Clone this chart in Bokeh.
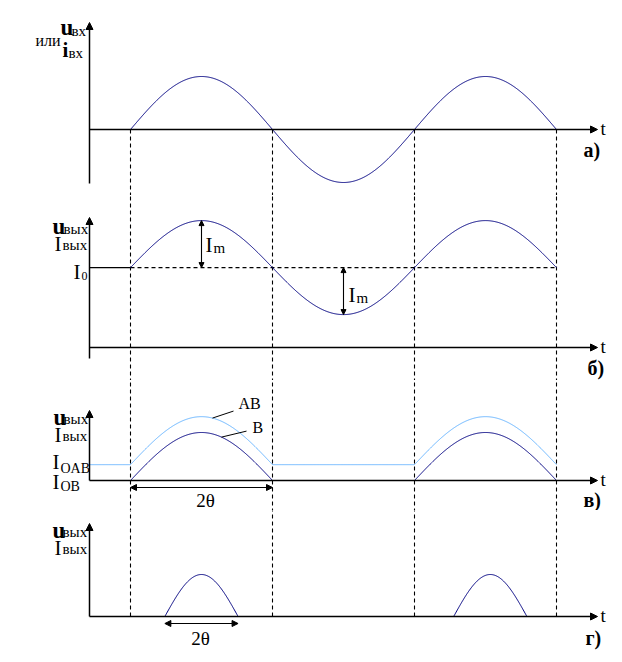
import numpy as np
from bokeh.plotting import figure
from bokeh.layouts import column
from bokeh.models import Range1d, Arrow, NormalHead
from bokeh.core.properties import value
from bokeh.embed import file_html
from bokeh.resources import INLINE

# ---- signal parameters (phase wt in radians) ----
PHASE_END = 3 * np.pi                               # one and a half periods of the input
HALF_PERIOD_MARKS = [0.0, np.pi, 2 * np.pi, 3 * np.pi]

U_IN_AMPL = 1.0          # а) input amplitude

I0_A = 1.7               # б) class A quiescent current
IM_A = 1.0               # б) class A current amplitude

I0_AB = 0.33             # в) class AB quiescent current
IM_B = 1.0               # в) class B / AB amplitude

IM_C = 1.0               # г) class C pulse height
THETA_C = 0.81           # г) cut-off angle theta, radians
PULSE_CENTERS_C = [1.57, 7.96]

panel_tags = ["а)", "б)", "в)", "г)"]

# ---- layout ----
W = 622
PX_PER_RAD = 142 / np.pi
ZERO_PX = 130
YAXIS_PX = 89
XAXIS_END_PX = 597

NAVY = "#000080"
LIGHT = "#66b3ff"
FONT = value("'Liberation Serif', serif")
BASELINE_FIX = 0.28      # alphabetic baseline sits this many em too low


def t_of(px):
    return (px - ZERO_PX) / PX_PER_RAD


T_AXIS = t_of(YAXIS_PX)
T_XEND = t_of(XAXIS_END_PX)


class Panel:
    def __init__(self, height, axis_px, scale):
        self.h, self.axis_px, self.scale = height, axis_px, scale
        self.p = figure(width=W, height=height,
                        x_range=Range1d(t_of(0), t_of(W)),
                        y_range=Range1d(-(height - axis_px) / scale, axis_px / scale),
                        output_backend="svg", toolbar_location=None,
                        x_axis_location=None, y_axis_location=None,
                        min_border=0, outline_line_color=None)
        self.p.grid.grid_line_color = None

    def y(self, px):
        return (self.axis_px - px) / self.scale

    @property
    def bottom(self):
        return self.y(self.h + 2)

    @property
    def top(self):
        return self.y(-2)

    def text(self, x_px, base_px, s, size, bold=False, align="left", color="black"):
        self.p.text(x=[t_of(x_px)], y=[self.y(base_px - BASELINE_FIX * size)], text=[s],
                    text_font=FONT, text_font_size=f"{size}px",
                    text_font_style="bold" if bold else "normal",
                    text_align=align, text_baseline="alphabetic", text_color=color)

    def axes(self, top_px, bottom_px):
        head = dict(size=7, fill_color="black", line_color="black", line_width=1)
        self.p.add_layout(Arrow(end=NormalHead(**head), x_start=T_AXIS, y_start=self.y(bottom_px),
                                x_end=T_AXIS, y_end=self.y(top_px), line_width=1.5))
        self.p.add_layout(Arrow(end=NormalHead(**head), x_start=T_AXIS, y_start=0,
                                x_end=T_XEND, y_end=0, line_width=1.5))
        self.text(600, self.axis_px + 4, "t", 19)

    def double_arrow(self, x0, y0, x1, y1, size=6):
        head = dict(size=size, fill_color="black", line_color="black", line_width=1)
        self.p.add_layout(Arrow(start=NormalHead(**head), end=NormalHead(**head),
                                x_start=x0, y_start=y0, x_end=x1, y_end=y1,
                                line_width=1.1))

    def marks(self, y0, y1):
        n = len(HALF_PERIOD_MARKS)
        self.p.segment(x0=HALF_PERIOD_MARKS, y0=[y0] * n, x1=HALF_PERIOD_MARKS, y1=[y1] * n,
                       line_color="black", line_width=1.1, line_dash="4 3")

    def subscripted(self, x_px, base_px, main, sub, main_size=21, sub_size=15,
                    bold=False, sub_dx=9, sub_drop=0):
        self.text(x_px, base_px, main, main_size, bold=bold)
        self.text(x_px + sub_dx, base_px + sub_drop, sub, sub_size)


t = np.linspace(0, PHASE_END, 700)

# ---------------- а) input signal ----------------
a = Panel(195, 129, 53)
a.marks(0, a.bottom)
a.p.line(t, U_IN_AMPL * np.sin(t), line_color=NAVY, line_width=1)
a.axes(22, 183)
a.subscripted(60, 33, "u", "вх", main_size=23, bold=True, sub_dx=11, sub_drop=2)
a.text(35, 44, "или", 16)
a.subscripted(62, 55, "i", "вх", main_size=21, bold=True, sub_dx=6, sub_drop=2)
a.text(583, 155, panel_tags[0], 20, bold=True)

# ---------------- б) class A ----------------
b = Panel(185, 152, 47)
b.marks(b.bottom, b.top)
b.p.line([T_AXIS, 0], [I0_A, I0_A], line_color="black", line_width=1.4)
b.p.line([0, PHASE_END], [I0_A, I0_A], line_color="black", line_width=1.1, line_dash="4 3")
b.p.line(t, I0_A + IM_A * np.sin(t), line_color=NAVY, line_width=1)
b.double_arrow(np.pi / 2, I0_A, np.pi / 2, I0_A + IM_A, size=5)
b.double_arrow(3 * np.pi / 2, I0_A, 3 * np.pi / 2, I0_A - IM_A, size=5)
b.subscripted(205, 55, "I", "m", main_size=21, sub_size=15, sub_dx=8, sub_drop=2)
b.subscripted(348, 105, "I", "m", main_size=21, sub_size=15, sub_dx=8, sub_drop=2)
b.axes(22, 163)
b.subscripted(52, 37, "u", "вых", main_size=23, bold=True, sub_dx=11, sub_drop=1)
b.subscripted(54, 54, "I", "вых", sub_dx=8)
b.subscripted(73, 82, "I", "0", sub_size=12, sub_dx=8, sub_drop=2)
b.text(587, 178, panel_tags[1], 20, bold=True)

# ---------------- в) classes B and AB ----------------
c = Panel(130, 100, 48)
c.marks(c.bottom, c.top)
t_ab = np.linspace(T_AXIS, PHASE_END, 800)
c.p.line(t_ab, I0_AB + IM_B * np.clip(np.sin(t_ab), 0, None), line_color=LIGHT, line_width=1)
s = np.sin(t)
c.p.line(t, np.where(s >= -1e-9, IM_B * s, np.nan), line_color=NAVY, line_width=1)
c.axes(30, 100)
c.double_arrow(0, c.y(107), np.pi, c.y(107))
c.text(205, 125, "2θ", 19, align="center")
# callouts for the two curves
ta, tb = t_of(212), t_of(221)
ya, yb = I0_AB + IM_B * np.sin(ta), IM_B * np.sin(tb)
c.p.segment(x0=[ta, tb], y0=[ya, yb],
            x1=[ta + 21 / PX_PER_RAD, tb + 25 / PX_PER_RAD],
            y1=[ya + 7 / c.scale, yb + 6 / c.scale],
            line_color="black", line_width=1)
c.text(238, 27, "AB", 16)
c.text(252, 51, "B", 16)
c.subscripted(53, 43, "u", "вых", main_size=23, bold=True, sub_dx=10)
c.subscripted(54, 60, "I", "вых", sub_dx=8)
c.subscripted(52, 87, "I", "OAB", sub_size=14, sub_dx=8, sub_drop=5)
c.subscripted(52, 107, "I", "OB", sub_size=14, sub_dx=8, sub_drop=3)
c.text(583, 125, panel_tags[2], 20, bold=True)

# ---------------- г) class C ----------------
d = Panel(152, 106, 42)
d.marks(0, d.top)
for ctr in PULSE_CENTERS_C:
    tp = np.linspace(ctr - THETA_C, ctr + THETA_C, 120)
    d.p.line(tp, IM_C * np.sin(np.pi * (tp - (ctr - THETA_C)) / (2 * THETA_C)),
             line_color=NAVY, line_width=1)
d.axes(13, 106)
c0 = PULSE_CENTERS_C[0]
d.double_arrow(c0 - THETA_C, d.y(113), c0 + THETA_C, d.y(113))
d.text(200, 133, "2θ", 19, align="center")
d.subscripted(52, 26, "u", "вых", main_size=23, bold=True, sub_dx=10)
d.subscripted(54, 43, "I", "вых", sub_dx=8)
d.text(585, 133, panel_tags[3], 20, bold=True)

layout = column(a.p, b.p, c.p, d.p, spacing=0)
open("out.html", "w").write(file_html(layout, INLINE))
